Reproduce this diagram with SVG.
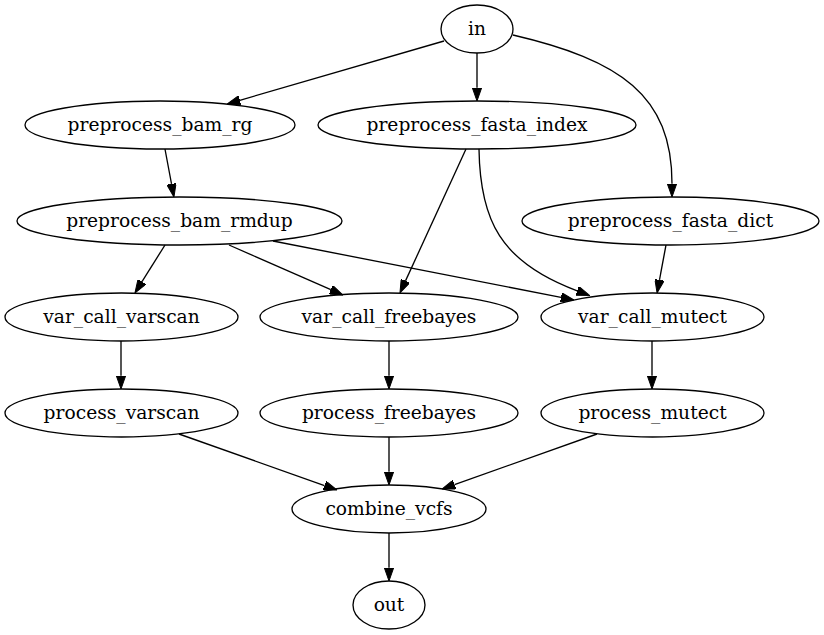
<svg xmlns="http://www.w3.org/2000/svg" width="824" height="635" viewBox="0 0 824 635">
<defs>
<marker id="ah" viewBox="0 0 13.3 9.4" refX="0" refY="4.7" markerWidth="13.3" markerHeight="9.4" markerUnits="userSpaceOnUse" orient="auto">
<path d="M0,0 L13.3,4.7 L0,9.4 z" fill="#000" stroke="#000" stroke-width="1"/>
</marker>
<style>
.n ellipse{fill:none;stroke:#000;stroke-width:1.33}
.n text{font-family:"DejaVu Serif",serif;font-size:18.67px;text-anchor:middle;fill:#000}
#edges path{fill:none;stroke:#000;stroke-width:1.33;marker-end:url(#ah)}
</style>
</defs>
<rect width="824" height="635" fill="#fff"/>
<g id="edges">
<path d="M444,41 L239.8,100.3"/>
<path d="M477,53 L477,87.7"/>
<path d="M513,35 C620,60 672,95 672,183.7"/>
<path d="M466,149 L405.5,280.9"/>
<path d="M479,149 C480,220 500,262 577.2,290.8"/>
<path d="M165,149 L171.5,183.9"/>
<path d="M165,245 L142,281.7"/>
<path d="M229,245 L330.8,289.7"/>
<path d="M273,241 L561,297.4"/>
<path d="M666,245 L659.5,279.9"/>
<path d="M121,341 L121,375.7"/>
<path d="M389,341 L389,375.7"/>
<path d="M652,341 L652,375.7"/>
<path d="M179,434 L324.5,485.6"/>
<path d="M389,437 L389,471.7"/>
<path d="M597,434 L454.5,484.6"/>
<path d="M389,533 L389,567.7"/>
</g>
<g id="in" class="n"><ellipse cx="477" cy="29" rx="36" ry="24"/><text x="477" y="35">in</text></g>
<g id="preprocess_bam_rg" class="n"><ellipse cx="160" cy="125" rx="135" ry="24"/><text x="160" y="131">preprocess_bam_rg</text></g>
<g id="preprocess_fasta_index" class="n"><ellipse cx="477" cy="125" rx="159" ry="24"/><text x="477" y="131">preprocess_fasta_index</text></g>
<g id="preprocess_bam_rmdup" class="n"><ellipse cx="179.5" cy="221" rx="162.5" ry="24"/><text x="179.5" y="227">preprocess_bam_rmdup</text></g>
<g id="preprocess_fasta_dict" class="n"><ellipse cx="670.5" cy="221" rx="148.5" ry="24"/><text x="670.5" y="227">preprocess_fasta_dict</text></g>
<g id="var_call_varscan" class="n"><ellipse cx="121.5" cy="317" rx="116.5" ry="24"/><text x="121.5" y="323">var_call_varscan</text></g>
<g id="var_call_freebayes" class="n"><ellipse cx="389" cy="317" rx="129" ry="24"/><text x="389" y="323">var_call_freebayes</text></g>
<g id="var_call_mutect" class="n"><ellipse cx="652.5" cy="317" rx="111.5" ry="24"/><text x="652.5" y="323">var_call_mutect</text></g>
<g id="process_varscan" class="n"><ellipse cx="121.5" cy="413" rx="116.5" ry="24"/><text x="121.5" y="419">process_varscan</text></g>
<g id="process_freebayes" class="n"><ellipse cx="389" cy="413" rx="129" ry="24"/><text x="389" y="419">process_freebayes</text></g>
<g id="process_mutect" class="n"><ellipse cx="652.5" cy="413" rx="111.5" ry="24"/><text x="652.5" y="419">process_mutect</text></g>
<g id="combine_vcfs" class="n"><ellipse cx="389" cy="509" rx="97" ry="24"/><text x="389" y="515">combine_vcfs</text></g>
<g id="out" class="n"><ellipse cx="389" cy="605" rx="36" ry="24"/><text x="389" y="611">out</text></g>
</svg>
